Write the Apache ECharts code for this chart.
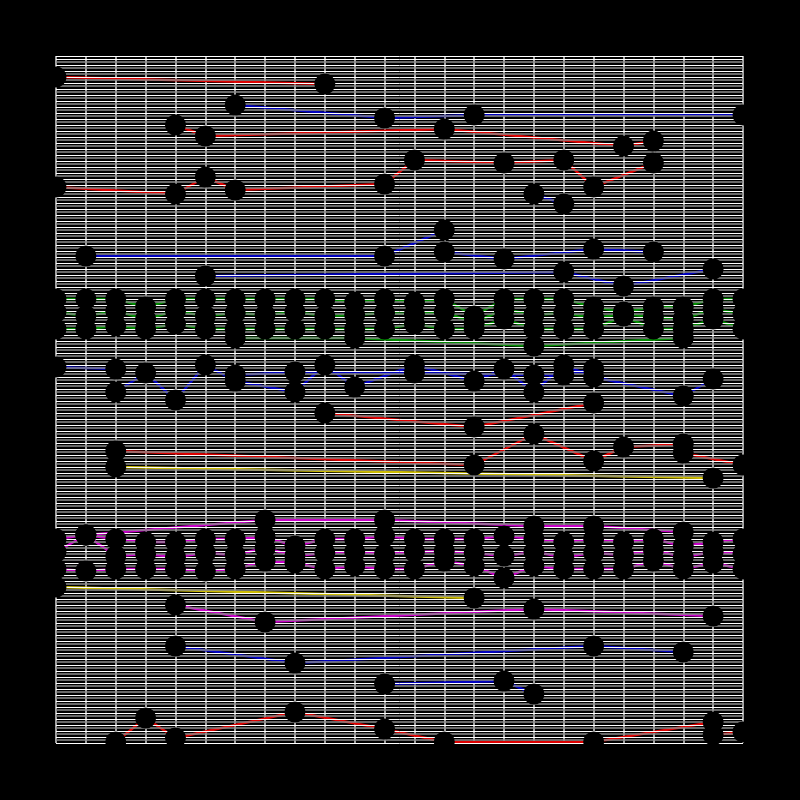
<!DOCTYPE html>
<html>
<head>
<meta charset="utf-8">
<script src="https://cdn.jsdelivr.net/npm/echarts@6/dist/echarts.min.js"></script>
<style>
html,body{margin:0;padding:0;background:#000;}
#c{width:800px;height:800px;}
</style>
</head>
<body>
<div id="c"></div>
<script>
// categories (24 slots, no labels shown)
const categories = ['0','1','2','3','4','5','6','7','8','9','10','11','12','13','14','15','16','17','18','19','20','21','22','23'];

// series values as [categoryIndex, value]
const redA   = [[0,666],[9,659]];
const blueA  = [[6,638],[11,625],[14,628],[23,628]];
const redB   = [[4,618],[5,607],[13,614],[19,597],[20,602]];
const redC   = [[0,556],[4,549],[5,566],[6,553],[11,559],[12,583],[15,580],[17,583],[18,556],[20,580]];
const blueS  = [[16,549],[17,539]];
const blueB1 = [[1,487],[11,487],[13,513]];
const blueB2 = [[13,491],[15,484],[18,494],[20,491]];
const blueC  = [[5,467],[17,471],[19,457],[22,474]];

const green1 = [[0,444],[1,444],[2,444],[3,436],[4,444],[5,444],[6,444],[7,444],[8,444],[9,444],[10,441],[11,444],[12,441],[13,444],[14,427],[15,444],[16,444],[17,444],[18,436],[19,431],[20,436],[21,436],[22,444],[23,444]];
const green2 = [[0,431],[1,427],[2,432],[3,424],[4,432],[5,427],[6,430],[7,428],[8,431],[9,427],[10,428],[11,430],[12,429],[13,431],[14,420],[15,434],[16,428],[17,430],[18,425],[19,429],[20,426],[21,424],[22,434],[23,429]];
const green3 = [[0,414],[1,414],[2,417],[3,414],[4,419],[5,414],[6,414],[7,414],[8,414],[9,414],[10,414],[11,414],[12,419],[13,414],[14,414],[15,424],[16,414],[17,414],[18,414],[19,427],[20,414],[21,414],[22,424],[23,414]];
const green4 = [[6,405],[10,405],[16,397],[21,405]];

const blueD1 = [[0,376],[2,374]];
const blueD2 = [[2,351],[3,370],[4,343],[5,378],[6,362],[8,351],[9,378],[10,356],[12,378],[14,362],[15,374],[16,351],[17,378],[18,366],[21,347],[22,364]];
const blueD3 = [[6,368],[8,371],[12,370],[16,368],[17,368],[18,374]];

const redE   = [[9,330],[14,316],[18,340]];
const redF   = [[2,292],[14,278],[16,309],[18,282],[19,296],[21,299]];
const redF2  = [[21,290],[23,278]];
const yellowA= [[2,276],[22,265]];

const magTop = [[1,208],[7,223],[11,223],[16,217],[18,217],[21,211]];
const mag1   = [[0,204],[1,208],[2,204],[3,201],[4,201],[5,204],[6,204],[7,206],[8,197],[9,204],[10,204],[11,207],[12,204],[13,204],[14,204],[15,207],[16,204],[17,201],[18,204],[19,201],[20,204],[21,197],[22,201],[23,204]];
const mag2   = [[0,191],[1,208],[2,187],[3,189],[4,186],[5,190],[6,188],[7,195],[8,187],[9,190],[10,191],[11,189],[12,191],[13,192],[14,190],[15,187],[16,191],[17,186],[18,190],[19,188],[20,193],[21,186],[22,191],[23,189]];
const mag3   = [[0,174],[1,172],[2,174],[3,174],[4,174],[5,172],[6,174],[7,182],[8,180],[9,174],[10,177],[11,174],[12,174],[13,182],[14,177],[15,165],[16,177],[17,174],[18,174],[19,174],[20,182],[21,174],[22,180],[23,174]];
const yellowB= [[0,156],[14,145]];
const magB   = [[4,138],[7,121],[16,134],[22,127]];
const blueE  = [[4,97],[8,80],[18,97],[21,91]];
const blueF  = [[11,59],[15,62],[16,49]];
const redG   = [[2,1],[3,25],[4,5],[8,31],[11,14],[13,1],[18,1],[22,21]];
const redG2  = [[22,8],[23,11]];

const RED='#dd0000', BLUE='#0000c0', GREEN='#008c00', YEL='#ccbb00', MAG='#c800c8';
const groups = [
  [redA,RED],[blueA,BLUE],[redB,RED],[redC,RED],[blueS,BLUE],[blueB1,BLUE],[blueB2,BLUE],[blueC,BLUE],
  [green1,GREEN],[green2,GREEN],[green3,GREEN],[green4,GREEN],
  [blueD1,BLUE],[blueD2,BLUE],[blueD3,BLUE],
  [redE,RED],[redF,RED],[redF2,RED],[yellowA,YEL],
  [magTop,MAG],[mag1,MAG],[mag2,MAG],[mag3,MAG],[yellowB,YEL],[magB,MAG],[blueE,BLUE],[blueF,BLUE],[redG,RED],[redG2,RED]
];

const series = [];
groups.forEach(([d,c])=>{
  series.push({type:'line', data:d, z:1, showSymbol:false, silent:true, animation:false,
    lineStyle:{color:c, width:2.5}});
});
groups.forEach(([d])=>{
  series.push({type:'scatter', data:d, z:5, symbol:'circle', symbolSize:19, silent:true, animation:false,
    itemStyle:{color:'#000', opacity:1, borderColor:'#000', borderWidth:2}});
});

const chart = echarts.init(document.getElementById('c'), null, {renderer:'canvas'});
chart.setOption({
  backgroundColor:'#000',
  animation:false,
  grid:{left:56, right:57, top:56, bottom:57},
  xAxis:{type:'category', data:categories, boundaryGap:false, z:0,
    axisLine:{show:false}, axisTick:{show:false}, axisLabel:{show:false},
    splitLine:{show:true, interval:0, lineStyle:{color:'#d8d8d8', width:1.5}}},
  yAxis:{type:'value', min:0, max:687, interval:6, z:3,
    axisLine:{show:false}, axisTick:{show:false}, axisLabel:{show:false},
    minorTick:{show:false, splitNumber:2},
    splitLine:{show:true, lineStyle:{color:'#ffffff', width:1}},
    minorSplitLine:{show:true, lineStyle:{color:'#8c8c8c', width:1.5}}},
  series: series
});
</script>
</body>
</html>
